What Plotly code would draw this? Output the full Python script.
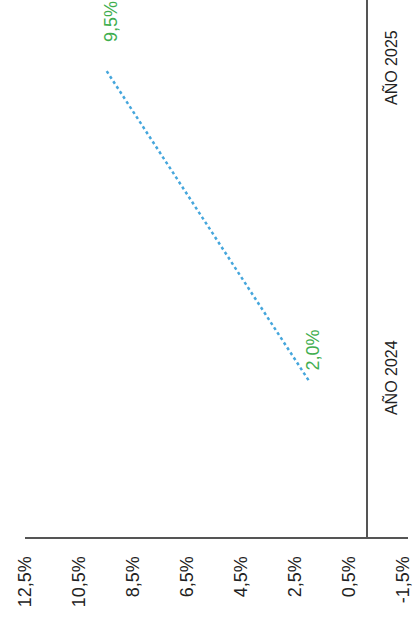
import plotly.graph_objects as go

# Series: annual rate per year
categories = ["AÑO 2024", "AÑO 2025"]
values = [2.0, 9.5]
value_labels = ["2,0%", "9,5%"]

# Value-axis ticks
tick_vals = [12.5, 10.5, 8.5, 6.5, 4.5, 2.5, 0.5, -1.5]
tick_text = ["12,5%", "10,5%", "8,5%", "6,5%", "4,5%", "2,5%", "0,5%", "-1,5%"]

FONT = "Arial, Liberation Sans, sans-serif"
AXIS_COLOR = "#555555"

fig = go.Figure()
fig.add_trace(go.Scatter(
    x=values, y=categories, mode="lines",
    line=dict(color="#45a6dc", width=2.5, dash="dot"),
    hoverinfo="skip", showlegend=False,
))

label_shift = [30, 48]
for v, c, t, s in zip(values, categories, value_labels, label_shift):
    fig.add_annotation(
        x=v, y=c, text=t, textangle=-90, showarrow=False,
        xshift=5, yshift=s,
        font=dict(family=FONT, size=18, color="#3fae4f"),
    )

fig.update_layout(
    width=419, height=632,
    margin=dict(l=25, r=11, t=0, b=95),
    paper_bgcolor="white", plot_bgcolor="white",
    font=dict(family=FONT, size=16, color="#222222"),
    xaxis=dict(
        range=[12.5, -1.685], tickvals=tick_vals, ticktext=tick_text,
        tickangle=-90, showgrid=False, zeroline=False,
        showline=True, linecolor=AXIS_COLOR, linewidth=2,
        ticks="", ticklabelstandoff=10,
        tickfont=dict(family=FONT, size=18, color="#222222"),
    ),
    yaxis=dict(
        type="category", categoryorder="array", categoryarray=categories,
        range=[-0.506, 1.226], side="right", anchor="free", position=0.893,
        tickangle=-90, showgrid=False, zeroline=False,
        showline=True, linecolor=AXIS_COLOR, linewidth=2,
        ticks="", ticklabelstandoff=10,
        tickfont=dict(family=FONT, size=16, color="#222222"),
    ),
)

fig.write_html("out.html")
